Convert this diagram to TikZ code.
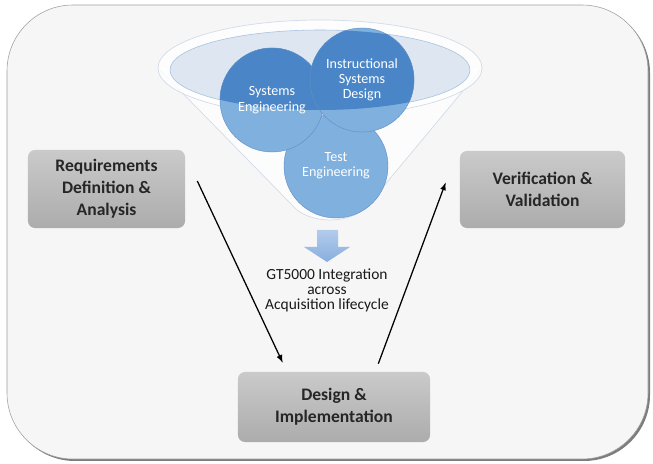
\documentclass[tikz,border=0pt]{standalone}
\usepackage{fontspec}
\setmainfont{Carlito}
\usepackage{tikz}
\definecolor{bgfill}{RGB}{246,246,246}
\definecolor{bgedge}{RGB}{160,160,160}
\definecolor{shadowgray}{RGB}{125,125,125}
\definecolor{boxtop}{RGB}{202,202,202}
\definecolor{boxbot}{RGB}{172,172,172}
\definecolor{funneledge}{RGB}{210,220,232}
\definecolor{rimfill}{RGB}{222,231,241}
\definecolor{rimblue}{RGB}{165,192,222}
\definecolor{bluelight}{RGB}{128,176,222}
\definecolor{bluedark}{RGB}{74,134,199}
\definecolor{blueedge}{RGB}{96,144,198}
\definecolor{arrowtop}{RGB}{178,204,236}
\definecolor{arrowbot}{RGB}{136,174,222}

\begin{document}
\begin{tikzpicture}[x=0.025cm,y=-0.025cm]
\tikzstyle{every node}+=[inner sep=0pt]
\tikzset{
  stagebox/.style={rounded corners=5pt, top color=boxtop, bottom color=boxbot,
    align=center, text=black!85, font=\bfseries\fontsize{12.5}{15.6}\selectfont},
  blob/.style={circle, minimum size=2.6cm, fill=bluelight, draw=blueedge, line width=0.3pt},
  bloblabel/.style={align=center, text=white, font=\fontsize{10}{10.9}\selectfont},
  flow/.style={-latex, line width=0.9pt}
}
\useasboundingbox (0,0) rectangle (653,464);
% background panel
\fill [shadowgray, rounded corners=1.65cm] (9,7) rectangle (650,461);
\filldraw [fill=bgfill, draw=bgedge, line width=0.4pt, rounded corners=1.65cm] (7,5) rectangle (648,459);
% funnel
\filldraw [fill=white, fill opacity=0.7, draw=funneledge, line width=0.5pt]
  (158,68) -- (292,205) .. controls (308,225) and (352,225) .. (368,205) -- (482,68);
\filldraw [fill=white, fill opacity=0.8, draw=funneledge, line width=0.5pt] (320,68) ellipse (162 and 48);
\filldraw [fill=rimfill, draw=rimblue, line width=0.4pt] (320,70) ellipse (150 and 40);
% disciplines
\node [blob] (te) at (336,166) {};
\node [blob] (se) at (272,100) {};
\node [blob] (isd) at (362,80) {};
\begin{scope}
\clip (320,70) ellipse (150 and 40);
\filldraw [fill=bluedark, draw=blueedge, line width=0.3pt] (se.center) circle (52);
\filldraw [fill=bluedark, draw=blueedge, line width=0.3pt] (isd.center) circle (52);
\end{scope}
\node [bloblabel] at (se) {Systems\\Engineering};
\node [bloblabel] at (isd) {Instructional\\Systems\\Design};
\node [bloblabel] at (te) {Test\\Engineering};
% block arrow
\shade [top color=arrowtop, bottom color=arrowbot]
  (317,230) -- (338,230) -- (338,247) -- (350,247) -- (327,262) -- (304,247) -- (317,247) -- cycle;
\node [align=center, font=\fontsize{11}{10.7}\selectfont, text=black!90] (gt) at (327,290)
  {GT5000 Integration\\across\\Acquisition lifecycle};
% stages
\node [stagebox, minimum width=3.925cm, minimum height=1.95cm] (req) at (106.5,189) {Requirements\\Definition \&\\Analysis};
\node [stagebox, minimum width=4.125cm, minimum height=1.925cm] (ver) at (542.5,189.5) {Verification \&\\Validation};
\node [stagebox, minimum width=4.8cm, minimum height=1.75cm] (des) at (334,407) {Design \&\\Implementation};
\draw [flow] ([shift={(12,-8)}]req.east) -- ([shift={(45,-9)}]des.north west);
\draw [flow] ([shift={(-52,-8)}]des.north east) -- ([shift={(-14,-7)}]ver.west);
\end{tikzpicture}
\end{document}
